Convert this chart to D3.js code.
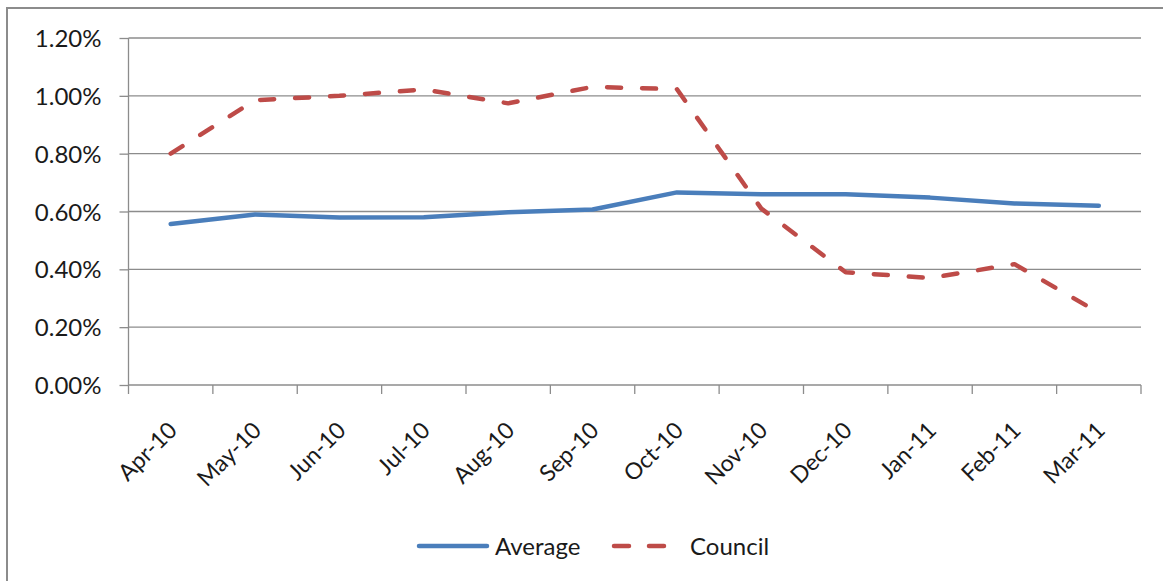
<!DOCTYPE html>
<html>
<head>
<meta charset="utf-8">
<script src="https://cdn.jsdelivr.net/npm/d3@7"></script>
<style>
  html, body { margin: 0; padding: 0; background: #fff; }
  svg { display: block; }
  text { font-family: Lato, "Open Sans", sans-serif; fill: #1a1a1a; }
</style>
</head>
<body>
<svg id="chart" width="1163" height="581"></svg>
<script>
// Monthly rates (percent)
const months = ["Apr-10", "May-10", "Jun-10", "Jul-10", "Aug-10", "Sep-10",
                "Oct-10", "Nov-10", "Dec-10", "Jan-11", "Feb-11", "Mar-11"];
const average = [0.557, 0.590, 0.579, 0.580, 0.597, 0.607, 0.666, 0.660, 0.660, 0.648, 0.628, 0.620];
const council = [0.800, 0.985, 1.000, 1.022, 0.974, 1.031, 1.023, 0.610, 0.390, 0.370, 0.418, 0.250];
const yTicks = [0, 0.2, 0.4, 0.6, 0.8, 1.0, 1.2];
const seriesNames = ["Average", "Council"];

const svg = d3.select("#chart");
const W = 1163, H = 581;
const plotLeft = 128.5, plotRight = 1141, plotTop = 38, plotBottom = 385;
const gridColor = "#8c8c8c";

// outer chart frame
svg.append("rect")
  .attr("x", 7).attr("y", 8).attr("width", W + 10).attr("height", H + 10)
  .attr("fill", "none").attr("stroke", gridColor).attr("stroke-width", 2);

const x = d3.scaleBand().domain(months).range([plotLeft, plotRight]).paddingInner(0).paddingOuter(0);
const y = d3.scaleLinear().domain([0, 1.2]).range([plotBottom, plotTop]);

// value axis with percent labels
const yAxis = d3.axisLeft(y).tickValues(yTicks).tickSize(9)
  .tickFormat(d => d.toFixed(2) + "%");
const gy = svg.append("g").attr("transform", `translate(${plotLeft},0)`).call(yAxis);
gy.select(".domain").attr("stroke", gridColor).attr("stroke-width", 1.3)
  .attr("d", `M0,${plotBottom}V${plotTop}`);
gy.selectAll(".tick line").attr("stroke", gridColor).attr("stroke-width", 1.3);
gy.selectAll(".tick text").attr("x", -27).attr("dy", "0.36em")
  .style("font-size", "24px").style("font-family", "Lato, sans-serif").attr("fill", "#1a1a1a");

// horizontal gridlines
svg.append("g").selectAll("line").data(yTicks.filter(d => d > 0)).join("line")
  .attr("x1", plotLeft).attr("x2", plotRight)
  .attr("y1", d => y(d)).attr("y2", d => y(d))
  .attr("stroke", gridColor).attr("stroke-width", 1.3);

// category axis with slanted month labels
const xAxis = d3.axisBottom(x).tickSize(0).tickFormat(d => d);
const gx = svg.append("g").attr("transform", `translate(0,${plotBottom})`).call(xAxis);
gx.select(".domain").attr("stroke", gridColor).attr("stroke-width", 1.3)
  .attr("d", `M${plotLeft},0H${plotRight}`);
gx.selectAll(".tick text")
  .style("font-size", "23px").style("font-family", "Lato, sans-serif").attr("fill", "#1a1a1a")
  .attr("text-anchor", "end")
  .attr("transform", "translate(2,41) rotate(-45)")
  .attr("y", 0).attr("dy", "0.35em");
// tick marks on category boundaries
const bounds = months.map(m => x(m)).concat([plotRight]);
svg.append("g").selectAll("line").data(bounds).join("line")
  .attr("x1", d => d).attr("x2", d => d)
  .attr("y1", plotBottom).attr("y2", plotBottom + 9)
  .attr("stroke", gridColor).attr("stroke-width", 1.3);

const cx = m => x(m) + x.bandwidth() / 2;
const line = d3.line().x((d, i) => cx(months[i])).y(d => y(d));

svg.append("path").datum(average)
  .attr("d", line).attr("fill", "none")
  .attr("stroke", "#4a7ebb").attr("stroke-width", 4.5)
  .attr("stroke-linejoin", "round").attr("stroke-linecap", "round");

svg.append("path").datum(council)
  .attr("d", line).attr("fill", "none")
  .attr("stroke", "#be4b48").attr("stroke-width", 4.5)
  .attr("stroke-dasharray", "14 21")
  .attr("stroke-linejoin", "round").attr("stroke-linecap", "round");

// legend
const lg = svg.append("g");
lg.append("line").attr("x1", 419).attr("x2", 487).attr("y1", 546).attr("y2", 546)
  .attr("stroke", "#4a7ebb").attr("stroke-width", 4.5).attr("stroke-linecap", "round");
lg.append("text").attr("x", 495).attr("y", 546).attr("dy", "0.36em")
  .style("font-size", "24px").text(seriesNames[0]);
lg.append("line").attr("x1", 614).attr("x2", 667).attr("y1", 546).attr("y2", 546)
  .attr("stroke", "#be4b48").attr("stroke-width", 4.5).attr("stroke-linecap", "round")
  .attr("stroke-dasharray", "15 20");
lg.append("text").attr("x", 690).attr("y", 546).attr("dy", "0.36em")
  .style("font-size", "24px").text(seriesNames[1]);
</script>
</body>
</html>
